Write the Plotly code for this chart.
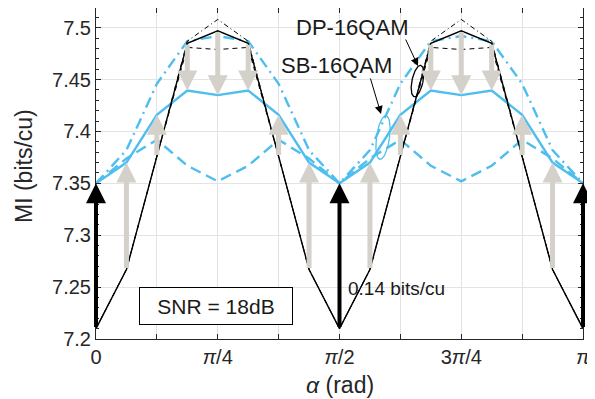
import numpy as np
import plotly.graph_objects as go

# ---------------- data ----------------
# alpha sampled every pi/16 from 0 to pi
alpha_steps = list(range(17))
alpha = [np.pi * s / 16 for s in alpha_steps]

black_solid = [7.21, 7.267, 7.376, 7.485, 7.497, 7.485, 7.376, 7.267, 7.21,
               7.267, 7.376, 7.485, 7.497, 7.485, 7.376, 7.267, 7.21]
black_dashed = [7.21, 7.267, 7.376, 7.481, 7.479, 7.481, 7.376, 7.267, 7.21,
                7.267, 7.376, 7.481, 7.479, 7.481, 7.376, 7.267, 7.21]
black_dashdot = [7.21, 7.267, 7.376, 7.487, 7.508, 7.487, 7.376, 7.267, 7.21,
                 7.267, 7.376, 7.487, 7.508, 7.487, 7.376, 7.267, 7.21]
blue_solid = [7.35, 7.370, 7.416, 7.4395, 7.435, 7.4395, 7.416, 7.370, 7.35,
              7.370, 7.416, 7.4395, 7.435, 7.4395, 7.416, 7.370, 7.35]
blue_dashed = [7.35, 7.374, 7.392, 7.367, 7.352, 7.367, 7.392, 7.374, 7.35,
               7.374, 7.392, 7.367, 7.352, 7.367, 7.392, 7.374, 7.35]
blue_dashdot = [7.35, 7.382, 7.446, 7.487, 7.492, 7.487, 7.446, 7.382, 7.35,
                7.382, 7.446, 7.487, 7.492, 7.487, 7.446, 7.382, 7.35]

gray_arrow_steps = [1, 2, 3, 4, 5, 6, 7, 9, 10, 11, 12, 13, 14, 15]
black_arrow_steps = [0, 8, 16]

x_tick_vals = [np.pi * s / 8 for s in range(9)]
x_tick_text = ["0", "", "<i>π</i>/4", "", "<i>π</i>/2", "", "3<i>π</i>/4", "", "<i>π</i>"]
y_tick_vals = [7.2, 7.25, 7.3, 7.35, 7.4, 7.45, 7.5]
y_tick_text = ["7.2", "7.25", "7.3", "7.35", "7.4", "7.45", "7.5"]

# ---------------- layout constants ----------------
# the page body has an 8px margin, so the figure is offset by 8px
OFF = 8
SCREEN_W, SCREEN_H = 595, 399
W, H = SCREEN_W - OFF, SCREEN_H - OFF
# plot box in screen pixels
SX0, SX1, SY_TOP, SY_BOT = 96, 583, 8, 339
ML = SX0 - OFF
MR = W - (SX1 - OFF)
MT = SY_TOP - OFF
MB = H - (SY_BOT - OFF)
XR = [0, np.pi]
YR = [7.2, 7.519]


def px2x(px):
    return XR[0] + (px - SX0) / (SX1 - SX0) * (XR[1] - XR[0])


def py2y(py):
    return YR[0] + (SY_BOT - py) / (SY_BOT - SY_TOP) * (YR[1] - YR[0])


def px2paper(px):
    return (px - SX0) / (SX1 - SX0)


def py2paper(py):
    return (SY_BOT - py) / (SY_BOT - SY_TOP)


BLUE = "#4DBEEE"
GRAY = "rgb(212,208,202)"
FONT = "Liberation Sans, Arial, Helvetica, sans-serif"

fig = go.Figure()

fig.add_trace(go.Scatter(x=alpha, y=blue_dashed, mode="lines",
                         line=dict(color=BLUE, width=2.4, dash="11px,6px")))
fig.add_trace(go.Scatter(x=alpha, y=blue_dashdot, mode="lines",
                         line=dict(color=BLUE, width=2.4, dash="11px,5px,2px,5px")))
fig.add_trace(go.Scatter(x=alpha, y=blue_solid, mode="lines",
                         line=dict(color=BLUE, width=2.4)))
fig.add_trace(go.Scatter(x=alpha, y=black_dashdot, mode="lines",
                         line=dict(color="black", width=1, dash="5px,3px,1px,3px")))
fig.add_trace(go.Scatter(x=alpha, y=black_dashed, mode="lines",
                         line=dict(color="black", width=1, dash="5px,4px")))
fig.add_trace(go.Scatter(x=alpha, y=black_solid, mode="lines",
                         line=dict(color="black", width=1.4)))


def ellipse(cx, cy, rx, ry, tilt_deg, color):
    t = np.linspace(0, 2 * np.pi, 80)
    a = np.deg2rad(tilt_deg)
    ex = rx * np.cos(t)
    ey = ry * np.sin(t)
    px = cx + ex * np.cos(a) + ey * np.sin(a)
    py = cy - (-ex * np.sin(a) + ey * np.cos(a))
    fig.add_trace(go.Scatter(x=[px2x(v) for v in px], y=[py2y(v) for v in py],
                             mode="lines", line=dict(color=color, width=1.3),
                             hoverinfo="skip"))


ellipse(417.5, 81, 5.5, 16, 12, "black")
ellipse(383, 137.5, 6.5, 22, 8, BLUE)

annotations = []
for s in gray_arrow_steps:
    annotations.append(dict(x=alpha[s], y=blue_solid[s], ax=alpha[s], ay=black_solid[s],
                            xref="x", yref="y", axref="x", ayref="y", text="",
                            showarrow=True, arrowhead=2, arrowwidth=5, arrowsize=0.8,
                            arrowcolor=GRAY, standoff=0, startstandoff=0))
for s in black_arrow_steps:
    annotations.append(dict(x=alpha[s], y=blue_solid[s], ax=alpha[s], ay=black_solid[s],
                            xref="x", yref="y", axref="x", ayref="y", text="",
                            showarrow=True, arrowhead=2, arrowwidth=4, arrowsize=1.0,
                            arrowcolor="black", standoff=0, startstandoff=0))

# label pointers
for tail, head in [((405, 38), (418, 66)), ((370, 77), (381, 114))]:
    annotations.append(dict(x=px2x(head[0]), y=py2y(head[1]),
                            ax=px2x(tail[0]), ay=py2y(tail[1]),
                            xref="x", yref="y", axref="x", ayref="y", text="",
                            showarrow=True, arrowhead=2, arrowwidth=1, arrowsize=1.6,
                            arrowcolor="black", standoff=0))

annotations.append(dict(x=px2x(351.5), y=py2y(27.5), xref="x", yref="y",
                        text="DP-16QAM", showarrow=False,
                        font=dict(family=FONT, size=22, color="#1a1a1a")))
annotations.append(dict(x=px2x(336.5), y=py2y(65), xref="x", yref="y",
                        text="SB-16QAM", showarrow=False,
                        font=dict(family=FONT, size=22, color="#1a1a1a")))
annotations.append(dict(x=px2x(216), y=py2y(305.5), xref="x", yref="y",
                        text="SNR = 18dB", showarrow=False, bgcolor="white",
                        bordercolor="black", borderwidth=1, borderpad=3,
                        width=146, height=30,
                        font=dict(family=FONT, size=21, color="#1a1a1a")))
annotations.append(dict(x=px2x(346), y=py2y(288), xref="x", yref="y",
                        xanchor="left", text="0.14 bits/cu", showarrow=False,
                        font=dict(family=FONT, size=19, color="#1a1a1a")))
# axis titles
annotations.append(dict(x=px2paper(340), y=py2paper(385), xref="paper", yref="paper",
                        text="<i>α</i> (rad)", showarrow=False,
                        xanchor="center", yanchor="middle",
                        font=dict(family=FONT, size=23, color="#262626")))
annotations.append(dict(x=px2paper(24), y=py2paper(166), xref="paper", yref="paper",
                        text="MI (bits/cu)", showarrow=False, textangle=-90,
                        xanchor="center", yanchor="middle",
                        font=dict(family=FONT, size=23, color="#262626")))

fig.update_layout(
    width=W, height=H,
    margin=dict(l=ML, r=MR, t=MT, b=MB, autoexpand=False),
    plot_bgcolor="white", paper_bgcolor="white",
    showlegend=False,
    font=dict(family=FONT, size=20, color="#262626"),
    annotations=annotations,
)
fig.update_xaxes(range=XR, tickvals=x_tick_vals, ticktext=x_tick_text,
                 showgrid=True, gridcolor="#e3e3e3", gridwidth=1,
                 showline=True, linecolor="#262626", linewidth=1, mirror="ticks",
                 ticks="inside", ticklen=5, tickcolor="#262626",
                 zeroline=False, automargin=False,
                 tickfont=dict(size=20))
fig.update_yaxes(range=YR, tickvals=y_tick_vals, ticktext=y_tick_text,
                 showgrid=True, gridcolor="#e3e3e3", gridwidth=1,
                 showline=True, linecolor="#262626", linewidth=1, mirror="ticks",
                 ticks="inside", ticklen=5, tickcolor="#262626",
                 zeroline=False, automargin=False,
                 minor=dict(dtick=0.01, tick0=7.2, ticks="inside", ticklen=3,
                            tickcolor="#262626", showgrid=False),
                 tickfont=dict(size=20))

fig.write_html("out.html")
